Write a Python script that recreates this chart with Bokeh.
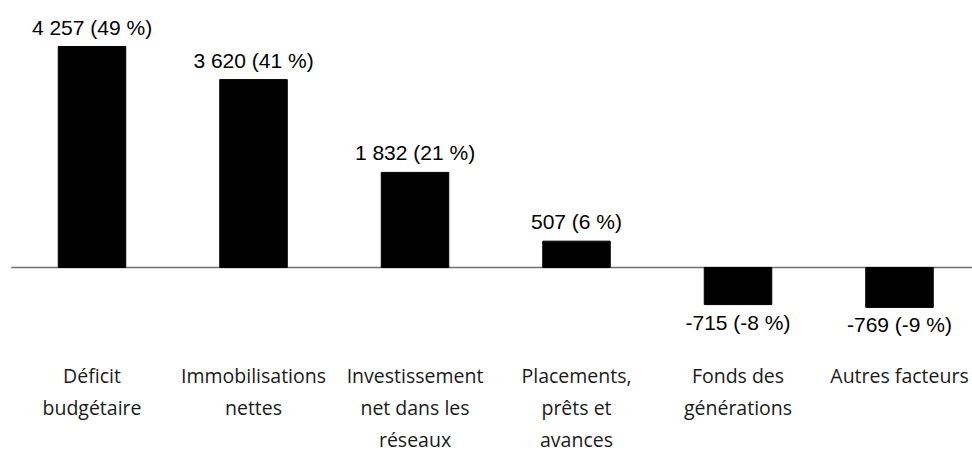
from bokeh.plotting import figure
from bokeh.models import ColumnDataSource, Range1d
from bokeh.core.properties import value
from bokeh.embed import file_html
from bokeh.resources import INLINE

categories = [
    "Déficit\nbudgétaire",
    "Immobilisations\nnettes",
    "Investissement\nnet dans les\nréseaux",
    "Placements,\nprêts et\navances",
    "Fonds des\ngénérations",
    "Autres facteurs",
]
values = [4257, 3620, 1832, 507, -715, -769]
percents = [49, 41, 21, 6, -8, -9]


def fmt(v, pct):
    return f"{v:,}".replace(",", " ") + f" ({pct} %)"


xs = list(range(len(categories)))
labels = [fmt(v, p) for v, p in zip(values, percents)]

bar_src = ColumnDataSource(dict(x=xs, top=values, label=labels))
pos_src = ColumnDataSource(dict(
    x=[x for x, v in zip(xs, values) if v >= 0],
    y=[v for v in values if v >= 0],
    label=[l for l, v in zip(labels, values) if v >= 0],
))
neg_src = ColumnDataSource(dict(
    x=[x for x, v in zip(xs, values) if v < 0],
    y=[v for v in values if v < 0],
    label=[l for l, v in zip(labels, values) if v < 0],
))

cx, cy, ctext, coff = [], [], [], []
for i, c in enumerate(categories):
    for k, line in enumerate(c.split("\n")):
        cx.append(i)
        cy.append(0)
        ctext.append(line)
        coff.append(108 + 32 * k)
cat_src = ColumnDataSource(dict(x=cx, y=cy, text=ctext, yo=coff))

X_START, X_END = -0.5666, 5.452
p = figure(
    width=972, height=453,
    output_backend="svg", toolbar_location=None,
    x_range=Range1d(X_START, X_END), y_range=Range1d(-3584, 5144),
    min_border=0, min_border_left=0, min_border_right=0,
    min_border_top=0, min_border_bottom=0,
)
p.axis.visible = False
p.xgrid.visible = False
p.ygrid.visible = False
p.outline_line_color = None
p.background_fill_color = "white"
p.border_fill_color = "white"

p.segment(x0=[-0.5], y0=[0], x1=[X_END], y1=[0], line_color="#707070", line_width=1.5)
p.vbar(x="x", top="top", bottom=0, width=0.418, source=bar_src,
       fill_color="black", line_color="black")

p.text(x="x", y="y", text="label", source=pos_src,
       text_align="center", text_baseline="bottom", y_offset=-8,
       text_font=value("Liberation Sans"), text_font_size="21px", text_color="black")
p.text(x="x", y="y", text="label", source=neg_src,
       text_align="center", text_baseline="top", y_offset=6,
       text_font=value("Liberation Sans"), text_font_size="21px", text_color="black")
p.text(x="x", y="y", text="text", source=cat_src, y_offset="yo",
       text_align="center", text_baseline="middle",
       text_font=value("Open Sans"), text_font_size="19.5px", text_color="#1a1a1a")

open("out.html", "w").write(file_html(p, INLINE))
